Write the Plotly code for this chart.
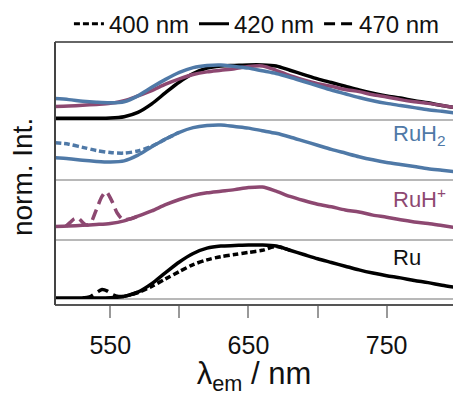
import plotly.graph_objects as go

# ---------------- data ----------------
wl = [510, 520, 530, 540, 550, 560, 570, 580, 590, 600,
      610, 620, 630, 640, 650, 660, 670, 680, 690, 700,
      710, 720, 730, 740, 750, 760, 770, 780, 790, 800]

ru_420 = [0.0, 0.0, 0.0, 0.0, 0.005, 0.03, 0.11, 0.27, 0.48, 0.68,
          0.84, 0.94, 0.98, 0.99, 1.0, 1.0, 0.98, 0.9, 0.82, 0.74,
          0.67, 0.6, 0.53, 0.47, 0.42, 0.38, 0.33, 0.29, 0.24, 0.2]

ruh2_420 = [0.37, 0.35, 0.32, 0.30, 0.29, 0.31, 0.42, 0.58, 0.73, 0.86,
            0.95, 0.99, 1.0, 0.97, 0.94, 0.89, 0.84, 0.77, 0.69, 0.61,
            0.53, 0.46, 0.39, 0.33, 0.28, 0.24, 0.2, 0.16, 0.13, 0.1]

ruh_420 = [0.22, 0.23, 0.245, 0.26, 0.28, 0.33, 0.42, 0.52, 0.64, 0.74,
           0.82, 0.87, 0.9, 0.93, 0.97, 0.98, 0.9, 0.8, 0.72, 0.65,
           0.6, 0.54, 0.5, 0.44, 0.4, 0.35, 0.31, 0.28, 0.24, 0.2]

# 400 nm excitation (where distinct from 420 nm)
ru_400_wl = [560, 570, 580, 590, 600, 610, 620, 630, 640, 650, 660, 670, 680]
ru_400 = [0.03, 0.1, 0.22, 0.36, 0.5, 0.63, 0.72, 0.78, 0.82, 0.86, 0.9, 0.97, 0.9]

ruh2_400_wl = [510, 520, 530, 540, 550, 560, 570, 580, 590, 600]
ruh2_400 = [0.66, 0.63, 0.57, 0.51, 0.47, 0.46, 0.5, 0.59, 0.73, 0.86]

# 470 nm excitation (where distinct from 420 nm)
ru_470_wl = [530, 535, 540, 544, 548, 552, 556, 560, 570]
ru_470 = [0.0, 0.02, 0.1, 0.16, 0.13, 0.06, 0.03, 0.03, 0.11]

ruh_470_wl = [518, 521, 524, 527, 530, 533, 536, 540, 544, 547, 551, 555, 559, 565, 570]
ruh_470 = [0.23, 0.3, 0.37, 0.38, 0.3, 0.25, 0.3, 0.55, 0.8, 0.89, 0.72, 0.48, 0.36, 0.37, 0.42]

legend_names = ["400 nm", "420 nm", "470 nm"]
panel_labels = ["RuH<sub>2</sub>", "RuH<sup>+</sup>", "Ru"]
major_ticks = [550, 650, 750]

# ---------------- style ----------------
BLACK = "#000000"
BLUE = "#4f79a7"
PURPLE = "#8d4871"
DOT = "6px,3px"
DASH = "11px,6px"
FONT = "Liberation Sans, Arial, sans-serif"
LW = 3.5

fig = go.Figure()

# legend entries
for name, dash in zip(legend_names, [DOT, "solid", DASH]):
    fig.add_trace(go.Scatter(x=[None], y=[None], mode="lines", name=name,
                             line=dict(color=BLACK, width=3, dash=dash)))

def add(x, y, color, dash, yax):
    fig.add_trace(go.Scatter(x=x, y=y, mode="lines", showlegend=False,
                             line=dict(color=color, width=LW, dash=dash, shape="spline", smoothing=0.8),
                             xaxis="x", yaxis=yax))

# top panel: overlay
add(wl, ru_420, BLACK, "solid", "y")
add(wl, ruh_420, PURPLE, "solid", "y")
add(wl, ruh2_420, BLUE, "solid", "y")

# RuH2 panel
add(ruh2_400_wl, ruh2_400, BLUE, DOT, "y2")
add(wl, ruh2_420, BLUE, "solid", "y2")

# RuH+ panel
add(ruh_470_wl, ruh_470, PURPLE, DASH, "y3")
add(wl, ruh_420, PURPLE, "solid", "y3")

# Ru panel
add(ru_400_wl, ru_400, BLACK, DOT, "y4")
add(ru_470_wl, ru_470, BLACK, DASH, "y4")
add(wl, ru_420, BLACK, "solid", "y4")

# geometry (paper fractions)
d1, d2, d3, d4 = 0.7034, 0.4753, 0.2471, 0.0228

ycommon = dict(showticklabels=False, showgrid=False, zeroline=False, ticks="",
               anchor="x", showline=False)

fig.update_layout(
    width=453, height=396,
    margin=dict(l=55, r=0, t=42, b=91, autoexpand=False),
    paper_bgcolor="white", plot_bgcolor="white",
    font=dict(family=FONT, color="#111", size=21),
    showlegend=True,
    legend=dict(orientation="h", x=0.035, xanchor="left", y=1.068, yanchor="middle",
                font=dict(size=24), bgcolor="rgba(0,0,0,0)", itemwidth=30, tracegroupgap=0),
    xaxis=dict(range=[510, 798], anchor="free", position=0, showline=True,
               linecolor="#555", linewidth=2, ticks="outside", ticklen=12,
               tickcolor="#999", tickwidth=1.5,
               tickvals=major_ticks,
               minor=dict(tick0=500, dtick=50, ticks="outside", ticklen=12,
                          tickcolor="#999", tickwidth=1.5, showgrid=False),
               tickfont=dict(size=25), showgrid=False, zeroline=False,
               ticklabelstandoff=6,
               title=dict(text="λ<sub>em</sub> / nm", font=dict(size=31), standoff=14)),
    yaxis=dict(domain=[d1, 1], range=[-0.032, 1.43], **ycommon),
    yaxis2=dict(domain=[d2, d1], range=[-0.058, 1.096], **ycommon),
    yaxis3=dict(domain=[d3, d2], range=[-0.038, 1.115], **ycommon),
    yaxis4=dict(domain=[d4, d3], range=[-0.019, 1.094], **ycommon),
)

shapes = []
for yy in [d1, d2, d3, d4]:
    shapes.append(dict(type="line", xref="paper", yref="paper", x0=0, x1=1, y0=yy, y1=yy,
                       line=dict(color="#a0a0a0", width=1.5), layer="below"))
shapes.append(dict(type="line", xref="paper", yref="paper", x0=0, x1=1, y0=1, y1=1,
                   line=dict(color="#666", width=2)))
shapes.append(dict(type="line", xref="paper", yref="paper", x0=0, x1=0, y0=0, y1=1,
                   line=dict(color="#444", width=2)))
fig.update_layout(shapes=shapes)

ann = [
    dict(text="norm. Int.", xref="paper", yref="paper", x=-0.080, y=0.487,
         textangle=-90, showarrow=False, font=dict(size=28), xanchor="center", yanchor="middle"),
]
for lab, yy, col in zip(panel_labels, [0.646, 0.407, 0.179], [BLUE, PURPLE, "#111"]):
    ann.append(dict(text=lab, xref="paper", yref="paper", x=0.845, y=yy, xanchor="left",
                    yanchor="middle", showarrow=False, font=dict(size=22, color=col)))
fig.update_layout(annotations=ann)

fig.write_html("out.html")
